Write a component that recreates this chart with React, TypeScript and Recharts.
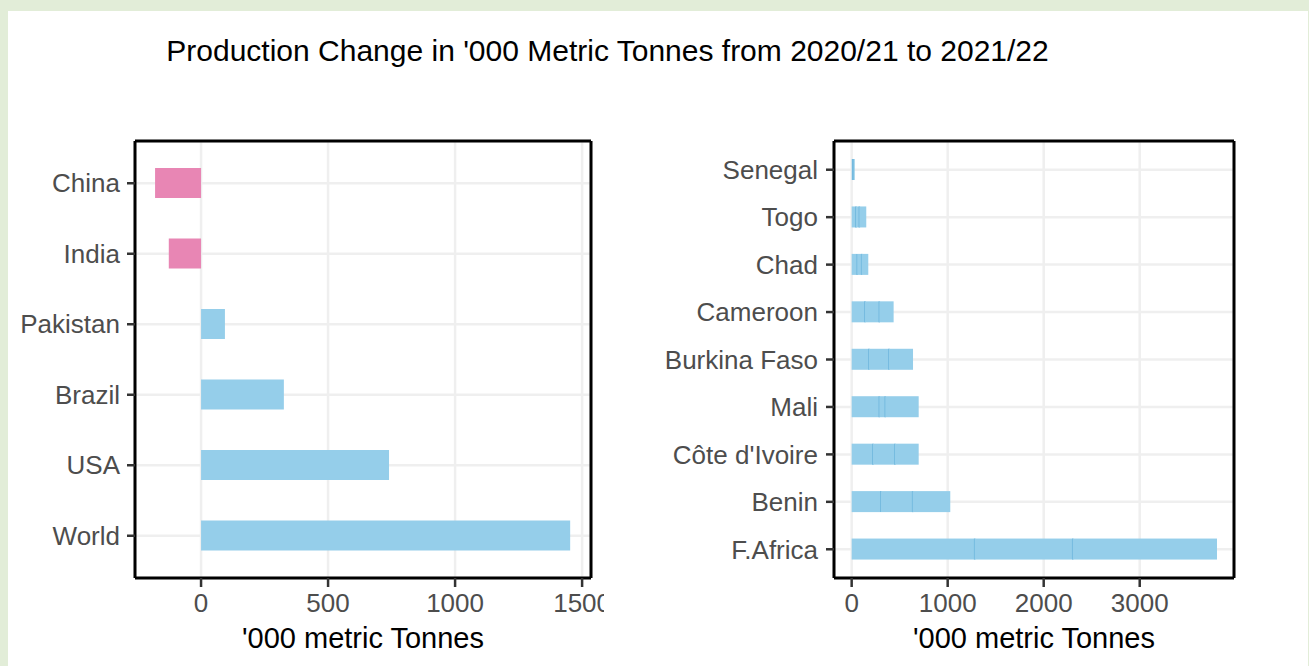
import React from 'react';
import { BarChart, Bar, XAxis, YAxis, CartesianGrid, Cell } from 'recharts';

// ---- data ----
const titleText = "Production Change in '000 Metric Tonnes from 2020/21 to 2021/22";
const axisTitle = "'000 metric Tonnes";

const leftCountries = ['China', 'India', 'Pakistan', 'Brazil', 'USA', 'World'];
const leftValues = [-181, -127, 94, 326, 740, 1453];
const leftTicks = [0, 500, 1000, 1500];
const leftDomain = [-260, 1535];

const rightCountries = ['Senegal', 'Togo', 'Chad', 'Cameroon', 'Burkina Faso', 'Mali', "Côte d'Ivoire", 'Benin', 'F.Africa'];
const rightSeg1 = [12, 45, 58, 139, 180, 288, 222, 305, 1281];
const rightSeg2 = [8, 35, 46, 149, 209, 62, 229, 330, 1021];
const rightSeg3 = [10, 72, 69, 149, 250, 348, 247, 392, 1503];
const rightTicks = [0, 1000, 2000, 3000];
const rightDomain = [-184, 3982];

const leftData = leftCountries.map((c, i) => ({ country: c, value: leftValues[i] }));
const rightData = rightCountries.map((c, i) => ({ country: c, s1: rightSeg1[i], s2: rightSeg2[i], s3: rightSeg3[i] }));

// ---- style ----
const PINK = '#e886b4';
const BLUE = '#95ceea';
const DIVIDER = '#6cb5dc';
const GRID = '#efefef';
const TICK_TEXT = '#4d4d4d';
const FONT = "'Liberation Sans', Arial, Helvetica, sans-serif";

const tickStyle = { fill: TICK_TEXT, fontSize: 26 };
const tickLine = { stroke: '#333333', strokeWidth: 2.5 };
const frameLine = { stroke: '#000000', strokeWidth: 3 };

const segShape = (divider: boolean) => (props: any) => {
  const { x, y, width, height, fill } = props;
  if (width == null || height == null) return <g />;
  return (
    <g>
      <rect x={x} y={y} width={Math.max(width, 0)} height={height} fill={fill} />
      {divider && width > 0 ? (
        <line x1={x + width} x2={x + width} y1={y} y2={y + height} stroke={DIVIDER} strokeWidth={1.5} />
      ) : null}
    </g>
  );
};

const LeftChart = () => (
  <BarChart
    width={604}
    height={666}
    data={leftData}
    layout="vertical"
    margin={{ top: 140, right: 12, bottom: 0, left: 0 }}
  >
    <CartesianGrid stroke={GRID} strokeWidth={2.5} />
    <XAxis
      type="number"
      domain={leftDomain}
      ticks={leftTicks}
      interval={0}
      allowDataOverflow
      height={88}
      tick={tickStyle}
      tickSize={9}
      tickMargin={7}
      tickLine={tickLine}
      axisLine={frameLine}
      label={{ value: axisTitle, position: 'insideBottom', offset: 18, fill: '#000', fontSize: 29 }}
    />
    <XAxis xAxisId="top" orientation="top" type="number" domain={leftDomain} ticks={leftTicks} allowDataOverflow height={1} tick={false} tickLine={false} axisLine={frameLine} />
    <YAxis
      type="category"
      dataKey="country"
      width={135}
      padding={{ top: 7, bottom: 7 }}
      interval={0}
      tick={tickStyle}
      tickSize={8}
      tickMargin={7}
      tickLine={tickLine}
      axisLine={frameLine}
    />
    <YAxis yAxisId="right" orientation="right" type="category" dataKey="country" width={1} tick={false} tickLine={false} axisLine={frameLine} />
    <Bar dataKey="value" barSize={30} isAnimationActive={false}>
      {leftData.map((d, i) => (
        <Cell key={i} fill={d.value < 0 ? PINK : BLUE} />
      ))}
    </Bar>
  </BarChart>
);

const RightChart = () => (
  <BarChart
    width={669}
    height={666}
    data={rightData}
    layout="vertical"
    margin={{ top: 140, right: 74, bottom: 0, left: 0 }}
  >
    <CartesianGrid stroke={GRID} strokeWidth={2.5} />
    <XAxis
      type="number"
      domain={rightDomain}
      ticks={rightTicks}
      interval={0}
      allowDataOverflow
      height={88}
      tick={tickStyle}
      tickSize={9}
      tickMargin={7}
      tickLine={tickLine}
      axisLine={frameLine}
      label={{ value: axisTitle, position: 'insideBottom', offset: 18, fill: '#000', fontSize: 29 }}
    />
    <XAxis xAxisId="top" orientation="top" type="number" domain={rightDomain} ticks={rightTicks} allowDataOverflow height={1} tick={false} tickLine={false} axisLine={frameLine} />
    <YAxis
      type="category"
      dataKey="country"
      width={194}
      padding={{ top: 5, bottom: 5 }}
      interval={0}
      tick={tickStyle}
      tickSize={8}
      tickMargin={8}
      tickLine={tickLine}
      axisLine={frameLine}
    />
    <YAxis yAxisId="right" orientation="right" type="category" dataKey="country" width={1} tick={false} tickLine={false} axisLine={frameLine} />
    <Bar dataKey="s1" stackId="a" barSize={21} fill={BLUE} shape={segShape(true)} isAnimationActive={false} />
    <Bar dataKey="s2" stackId="a" barSize={21} fill={BLUE} shape={segShape(true)} isAnimationActive={false} />
    <Bar dataKey="s3" stackId="a" barSize={21} fill={BLUE} shape={segShape(false)} isAnimationActive={false} />
  </BarChart>
);

export default function App() {
  return (
    <div style={{ position: 'absolute', left: 0, top: 0, width: 1309, height: 666, background: '#e2edd8', fontFamily: FONT, overflow: 'hidden' }}>
      <div style={{ position: 'absolute', left: 8, top: 11, width: 1300, height: 655, background: '#ffffff' }} />
      <div style={{ position: 'absolute', left: 0, top: 36, width: 1215, textAlign: 'center', fontSize: 30, lineHeight: '29px', color: '#000' }}>
        {titleText}
      </div>
      <div style={{ position: 'absolute', left: 0, top: 0 }}>
        <LeftChart />
      </div>
      <div style={{ position: 'absolute', left: 640, top: 0 }}>
        <RightChart />
      </div>
    </div>
  );
}
